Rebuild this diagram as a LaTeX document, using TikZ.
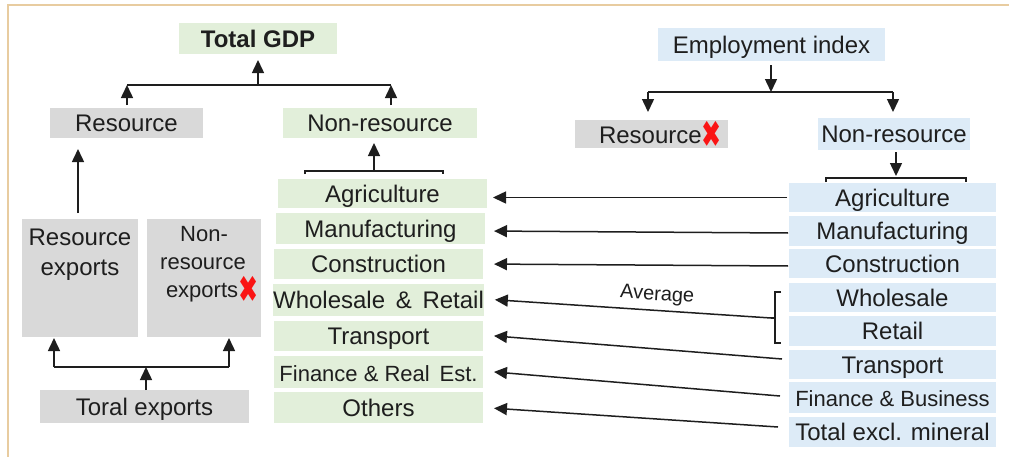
\documentclass[tikz,border=0pt]{standalone}
\usepackage{fontspec}
\setmainfont{Liberation Sans}
\newfontfamily\symfont{DejaVu Sans}
\usetikzlibrary{arrows.meta}
\definecolor{gfill}{RGB}{226,239,218}
\definecolor{bfill}{RGB}{221,235,247}
\definecolor{kfill}{RGB}{217,217,217}
\definecolor{ink}{RGB}{30,30,30}
\definecolor{xred}{RGB}{250,20,20}
\definecolor{framec}{RGB}{232,204,160}
\newcommand\crossmark[1]{{\color{xred}\symfont\fontsize{30}{30}\selectfont\raisebox{#1}{\scalebox{0.8}[1.25]{✖}}}}
\newcommand\bigtxt{\fontsize{24}{26}\selectfont}
\newcommand\smalltxt{\fontsize{22}{24}\selectfont}

\begin{document}
\begin{tikzpicture}[x=1pt,y=-1pt,
  box/.style={inner sep=0pt, outer sep=0pt, text=ink, font=\bigtxt,
              text height=17pt, text depth=0pt},
  sz/.style 2 args={minimum width=#1pt, minimum height=#2pt},
  gbox/.style={box, fill=gfill},
  bbox/.style={box, fill=bfill},
  kbox/.style={box, fill=kfill},
  lbl/.style={inner sep=0pt, outer sep=0pt, text=ink},
  wire/.style={draw=ink, line width=1.5pt},
  arr/.style={wire, -{Triangle[length=13pt,width=12pt]}},
]
\useasboundingbox (0,0) rectangle (1009,456);
% outer frame
\draw[framec, line width=2pt] (8,460) -- (8,5) -- (1012,5);

% ---- GDP side ----
\node[gbox, sz={158}{31}, font=\bigtxt\bfseries] (gdp) at (258,38.5) {Total GDP};
\node[kbox, sz={153}{30}] (resL) at (126.5,123) {Resource};
\node[gbox, sz={194}{30}] (nrL) at (380,123) {Non-resource};

\node[kbox, sz={116}{118}] (rexp) at (80,278) {};
\node[lbl, font=\bigtxt, anchor=base] (rexpA) at (80,245) {Resource};
\node[lbl, font=\bigtxt, anchor=base] (rexpB) at (80,275) {exports};

\node[kbox, sz={114}{118}] (nrexp) at (204,278) {};
\node[lbl, font=\smalltxt, anchor=base] (nrexpA) at (204,241) {Non-};
\node[lbl, font=\smalltxt, anchor=base] (nrexpB) at (203,269) {resource};
\node[lbl, font=\smalltxt, anchor=base west] (nrexpC) at (166,297) {exports\crossmark{-5pt}};

\node[kbox, sz={209}{33}] (totexp) at (144.5,406.5) {Toral exports};

% GDP-side sectors
\node[gbox, sz={209}{29}] (mAgr) at (382.5,193.5) {Agriculture};
\node[gbox, sz={209}{31}] (mMan) at (380.5,228.5) {Manufacturing};
\node[gbox, sz={209}{30}] (mCon) at (378.5,264) {Construction};
\node[gbox, sz={209}{32}] (mWR)  at (378.5,300) {Wholesale \,\&\, Retail};
\node[gbox, sz={209}{30}] (mTra) at (378.5,336) {Transport};
\node[gbox, sz={209}{32}, font=\smalltxt, text height=18pt] (mFin) at (378.5,372) {Finance \& Real \,Est.};
\node[gbox, sz={209}{31}] (mOth) at (378.5,407.5) {Others};

% ---- employment side ----
\node[bbox, sz={227}{33}] (emp) at (771.5,44.5) {Employment index};
\node[kbox, sz={153}{28}] (resR) at (651.5,134) {};
\node[lbl, font=\bigtxt, anchor=base west] (resRt) at (599,143) {Resource\crossmark{-4pt}};
\node[bbox, sz={152}{32}] (nrR) at (894,134) {Non-resource};

\node[bbox, sz={207}{29}] (rAgr) at (892.5,197.5) {Agriculture};
\node[bbox, sz={207}{30}] (rMan) at (892.5,231) {Manufacturing};
\node[bbox, sz={207}{29}] (rCon) at (892.5,263.5) {Construction};
\node[bbox, sz={207}{29}] (rWho) at (892.5,297.5) {Wholesale};
\node[bbox, sz={207}{30}] (rRet) at (892.5,331) {Retail};
\node[bbox, sz={207}{29}] (rTra) at (892.5,364.5) {Transport};
\node[bbox, sz={207}{31}, font=\smalltxt] (rFin) at (892.5,397.5) {Finance \& Business};
\node[bbox, sz={207}{30}] (rTot) at (892.5,432) {Total excl. mineral};

% ---- GDP tree connectors ----
\coordinate (jL) at (127,85);
\coordinate (jM) at (258,85);
\coordinate (jR) at (391,85);
\draw[wire] (jL) -- (jR);
\draw[arr, shorten <=3pt] (resL.north -| jL) -- (jL);
\draw[arr, shorten <=3pt] (nrL.north -| jR) -- (jR);
\draw[arr, shorten >=6pt] (jM) -- (gdp.south);

\coordinate (bM) at (374,171);
\coordinate (bML) at (305,171);
\coordinate (bMR) at (443,171);
\draw[wire] ([yshift=-3pt]bML) -- (bML) -- (bMR) -- ([yshift=-3pt]bMR);
\draw[arr, shorten >=5pt] (bM) -- (nrL.south -| bM);

\coordinate (rx) at (78,0);
\draw[arr, shorten <=6pt, shorten >=11pt] (rexp.north -| rx) -- (resL.south -| rx);

\coordinate (eL) at (54,367);
\coordinate (eM) at (146,367);
\coordinate (eR) at (229,367);
\draw[wire] (eL) -- (eR);
\draw[arr, shorten >=1pt] (eL) -- (rexp.south -| eL);
\draw[arr, shorten >=1pt] (eR) -- (nrexp.south -| eR);
\draw[arr] (totexp.north -| eM) -- (eM);

% ---- employment tree connectors ----
\coordinate (kL) at (648,92);
\coordinate (kM) at (771,92);
\coordinate (kR) at (893,92);
\draw[wire] (kL) -- (kR);
\draw[arr, shorten <=4pt] (emp.south -| kM) -- (kM);
\draw[arr, shorten >=8pt] (kL) -- (resR.north -| kL);
\draw[arr, shorten >=6pt] (kR) -- (nrR.north -| kR);

\coordinate (bR) at (896,178);
\coordinate (bRL) at (826,178);
\coordinate (bRR) at (966,178);
\draw[wire] ([yshift=-4pt]bRL) -- (bRL) -- (bRR) -- ([yshift=-4pt]bRR);
\draw[arr, shorten <=2pt, shorten >=2pt] (nrR.south -| bR) -- (bR);

% bracket joining wholesale and retail
\coordinate (avT) at (775,292);
\coordinate (avB) at (775,343);
\coordinate (avM) at (775,318);
\coordinate (avg) at (771,318);
\draw[wire, line width=1.2pt] ([xshift=6pt]avT) -- (avT) -- (avB) -- ([xshift=6pt]avB);
\draw[wire, line width=1.2pt] (avM) -- (avg);

% ---- sector mappings ----
\draw[arr, shorten <=2pt, shorten >=6pt] (rAgr.west) -- (mAgr.east |- rAgr.west);
\draw[arr, shorten <=1pt, shorten >=9pt] ([yshift=-2pt]rMan.west) -- (mMan.east |- rMan.west);
\draw[arr, shorten <=1pt, shorten >=11pt] ([yshift=-2.5pt]rCon.west) -- (mCon.east);
\draw[arr, shorten >=11pt] (avg) -- node[lbl, sloped, above=6pt, font=\fontsize{20}{22}\selectfont, pos=0.4] (avgLbl) {Average} ([yshift=1pt]mWR.east);
\draw[arr, shorten >=11pt] ([xshift=-7pt,yshift=5.5pt]rTra.west) -- ([yshift=1pt]mTra.east);
\draw[arr, shorten >=11pt] ([xshift=-9pt,yshift=1.5pt]rFin.west) -- ([yshift=1pt]mFin.east);
\draw[arr, shorten >=11pt] ([xshift=-11pt,yshift=5pt]rTot.west) -- (mOth.east);
\end{tikzpicture}
\end{document}
